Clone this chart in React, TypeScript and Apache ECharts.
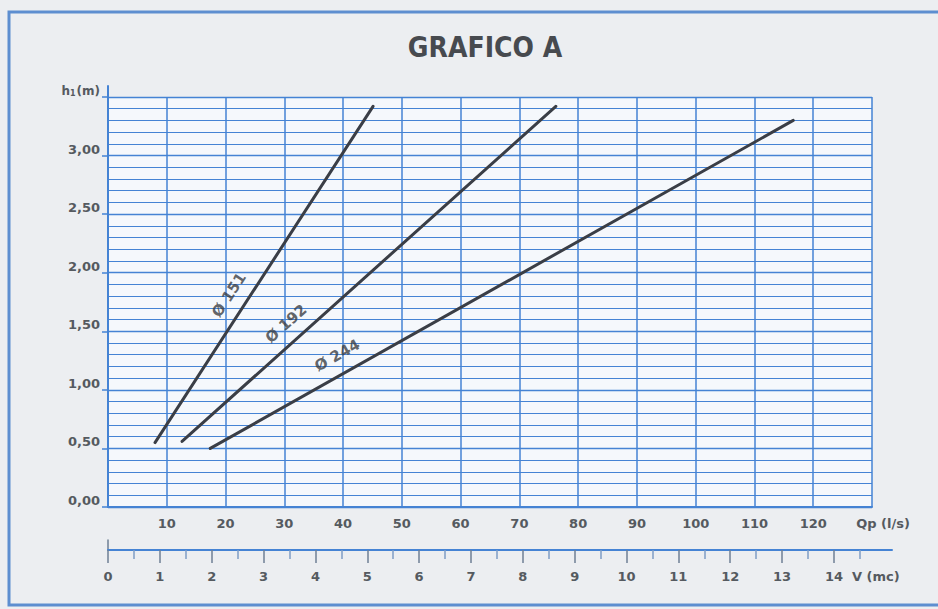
import React, { useEffect, useRef } from "react";
import * as echarts from "echarts";

// ---- data ----
const qpMin = 0;
const qpMax = 130;
const qpInterval = 10;
const hMin = 0;
const hMax = 3.5;
const hInterval = 0.5;
const vMax = 15.12;
const vTicks = [0, 1, 2, 3, 4, 5, 6, 7, 8, 9, 10, 11, 12, 13, 14];
const vLabels = [0, 1, 2, 3, 4, 5, 6, 7, 8, 9, 10, 11, 12, 13, 14, 15];

const seriesNames = ["Ø 151", "Ø 192", "Ø 244"];
const line151 = [[8.0, 0.55], [45.1, 3.42]];
const line192 = [[12.6, 0.56], [76.2, 3.42]];
const line244 = [[17.4, 0.5], [116.6, 3.3]];
const lines = [line151, line192, line244];
const labelAnchors = [[20.6, 1.81], [30.3, 1.565], [39.0, 1.295]];

const BLUE = "#4583d4";
const TEXT = "#555a60";
const LINE = "#3a3e46";
const FONT = "DejaVu Sans";

const G_LEFT = 108;
const G_TOP = 97;
const G_W = 764;
const G_H = 410;

export default function App() {
  const ref = useRef<HTMLDivElement>(null);
  useEffect(() => {
    if (!ref.current) return;
    const chart = echarts.init(ref.current, undefined, { renderer: "svg" });
    const pxX = G_W / (qpMax - qpMin);
    const pxY = G_H / (hMax - hMin);

    const lineSeries = lines.map((d, i) => ({
      type: "line",
      name: seriesNames[i],
      xAxisIndex: 0,
      yAxisIndex: 0,
      data: d,
      symbol: "none",
      lineStyle: { color: LINE, width: 3, cap: "round" },
      z: 5,
    }));
    const labelSeries = lines.map((d, i) => {
      const ang =
        (Math.atan2((d[1][1] - d[0][1]) * pxY, (d[1][0] - d[0][0]) * pxX) * 180) / Math.PI;
      return {
        type: "scatter",
        xAxisIndex: 0,
        yAxisIndex: 0,
        data: [labelAnchors[i]],
        symbolSize: 0,
        silent: true,
        z: 6,
        label: {
          show: true,
          position: "inside",
          formatter: seriesNames[i],
          rotate: ang,
          fontSize: 15,
          fontWeight: "bold",
          fontFamily: FONT,
          color: "#3a3d42",
        },
      };
    });

    chart.setOption({
      animation: false,
      backgroundColor: "#eceef1",
      title: {
        text: "GRAFICO A",
        left: 480,
        top: 28,
        textAlign: "center",
        textStyle: {
          fontSize: 28,
          fontWeight: "bold",
          fontFamily: "DejaVu Sans Condensed",
          color: "#474a4f",
        },
      },
      graphic: [
        {
          type: "rect",
          shape: { x: 9, y: 12, width: 940, height: 593 },
          style: { fill: "none", stroke: "#5d8ed0", lineWidth: 3 },
          silent: true,
        },
      ],
      grid: [
        {
          left: G_LEFT,
          top: G_TOP,
          width: G_W,
          height: G_H,
          show: true,
          backgroundColor: "#f5f8fc",
          borderWidth: 0,
        },
        { left: G_LEFT, top: 540, width: 784, height: 10 },
        { left: G_LEFT, top: 86, width: 10, height: 11 },
      ],
      xAxis: [
        {
          type: "value",
          gridIndex: 0,
          min: qpMin,
          max: qpMax,
          interval: qpInterval,
          axisLine: { show: true, onZero: false, lineStyle: { color: BLUE, width: 2 } },
          axisTick: { show: false },
          splitLine: { show: true, lineStyle: { color: BLUE, width: 1.5 } },
          axisLabel: {
            margin: 10,
            fontSize: 13,
            fontWeight: "bold",
            fontFamily: FONT,
            color: TEXT,
            showMinLabel: true,
            showMaxLabel: true,
            formatter: (v: number) =>
              v === qpMin ? "" : v === qpMax ? "{q|Qp (l/s)}" : String(v),
            rich: {
              q: {
                fontSize: 13,
                fontWeight: "bold",
                fontFamily: FONT,
                color: TEXT,
                padding: [0, 0, 0, 22],
              },
            },
          },
        },
        {
          type: "value",
          gridIndex: 1,
          position: "bottom",
          min: 0,
          max: vMax,
          interval: 1,
          axisLine: { show: true, onZero: false, lineStyle: { color: BLUE, width: 2 } },
          axisTick: {
            show: true,
            length: 13,
            customValues: vTicks,
            lineStyle: { color: "#6f7f95", width: 1.5 },
          },
          minorTick: { show: true, splitNumber: 2, length: 9, lineStyle: { color: "#7f9cc4", width: 1.5 } },
          splitLine: { show: false },
          axisLabel: {
            margin: 20,
            fontSize: 13,
            fontWeight: "bold",
            fontFamily: FONT,
            color: TEXT,
            showMinLabel: true,
            showMaxLabel: true,
            customValues: vLabels,
            formatter: (v: number) => (v === 15 ? "{q|V (mc)}" : String(v)),
            rich: {
              q: {
                fontSize: 13,
                fontWeight: "bold",
                fontFamily: FONT,
                color: TEXT,
                padding: [0, 20, 0, 0],
              },
            },
          },
        },
        { type: "value", gridIndex: 2, min: 0, max: 1, show: false },
      ],
      yAxis: [
        {
          type: "value",
          gridIndex: 0,
          min: hMin,
          max: hMax,
          interval: hInterval,
          axisLine: { show: true, lineStyle: { color: BLUE, width: 2 } },
          axisTick: { show: true, length: 6, lineStyle: { color: BLUE, width: 1.5 } },
          minorTick: { show: false, splitNumber: 5 },
          splitLine: { show: true, lineStyle: { color: BLUE, width: 1.4 } },
          minorSplitLine: { show: true, lineStyle: { color: BLUE, width: 1.1 } },
          axisLabel: {
            margin: 8,
            verticalAlign: "bottom",
            fontSize: 13,
            fontWeight: "bold",
            fontFamily: FONT,
            color: TEXT,
            showMaxLabel: true,
            formatter: (v: number) =>
              v === hMax ? "{a|h}{s|1}{a|(m)}" : v.toFixed(2).replace(".", ","),
            rich: {
              a: { fontSize: 12, fontWeight: "bold", fontFamily: FONT, color: TEXT },
              s: {
                fontSize: 8,
                fontWeight: "bold",
                fontFamily: FONT,
                color: TEXT,
                padding: [5, 1, 0, 0],
              },
            },
          },
        },
        {
          type: "value",
          gridIndex: 1,
          min: 0,
          max: 1,
          axisLine: { show: true, lineStyle: { color: "#6f7f95", width: 1.5 } },
          axisTick: { show: false },
          axisLabel: { show: false },
          splitLine: { show: false },
        },
        {
          type: "value",
          gridIndex: 2,
          min: 0,
          max: 1,
          axisLine: { show: true, lineStyle: { color: BLUE, width: 2 } },
          axisTick: { show: false },
          axisLabel: { show: false },
          splitLine: { show: false },
        },
      ],
      series: [...lineSeries, ...labelSeries],
    });
    return () => chart.dispose();
  }, []);
  return (
    <div
      ref={ref}
      style={{ position: "fixed", left: 0, top: 0, width: 938, height: 609 }}
    />
  );
}
